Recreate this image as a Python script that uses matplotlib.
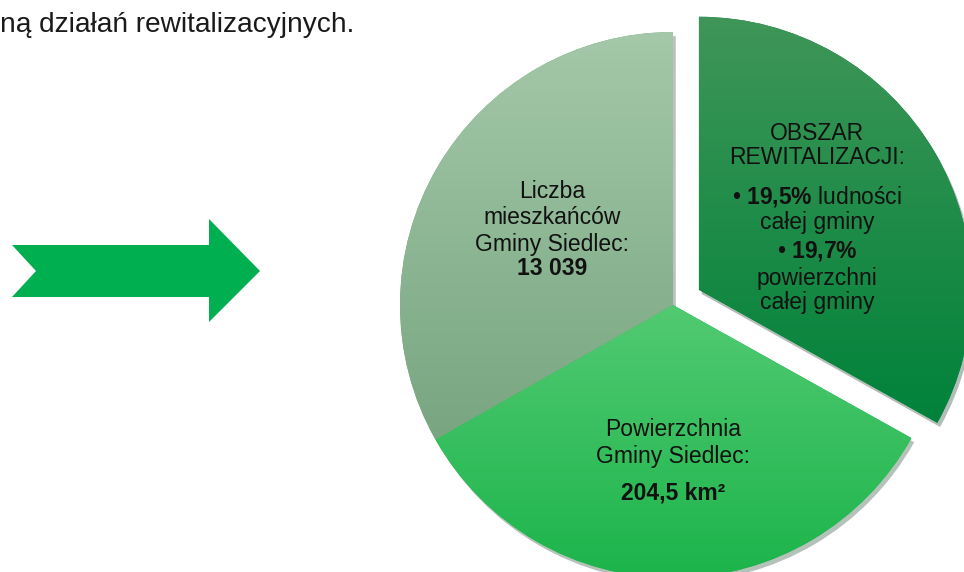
import matplotlib
matplotlib.use("Agg")
import matplotlib.pyplot as plt
import numpy as np
from matplotlib.colors import LinearSegmentedColormap
from matplotlib.patches import Polygon
import matplotlib.patheffects as pe

plt.rcParams["font.family"] = ["Liberation Sans", "DejaVu Sans"]
plt.rcParams["mathtext.fontset"] = "custom"
plt.rcParams["mathtext.rm"] = "Liberation Sans"
plt.rcParams["mathtext.bf"] = "Liberation Sans:bold"

# slice shares (three near-equal thirds)
segments = ["Obszar rewitalizacji", "Powierzchnia", "Liczba mieszkańców"]
shares = [33.1, 33.7, 33.2]
explode = [0.11, 0.0, 0.0]
# (top colour, bottom colour) of each slice's vertical gradient
grad_colors = [("#3f9658", "#00823a"), ("#52ca72", "#1cb44b"), ("#a4c8a9", "#78a680")]

header = "ną działań rewitalizacyjnych."
W, H = 964, 572

fig = plt.figure(figsize=(W / 100, H / 100), dpi=100)

# pie: centre (673, 305) px, radius 273 px; axes span the whole figure
cx, cy, r = 673, 305, 273
ax = fig.add_axes([0, 0, 1, 1])
wedges, _ = ax.pie(shares, explode=explode, startangle=90, counterclock=False,
                   radius=1, colors=[c[1] for c in grad_colors])

grad = np.linspace(0, 1, 256).reshape(-1, 1)
for w, (top, bot) in zip(wedges, grad_colors):
    w.set_edgecolor("none")
    w.set_path_effects([pe.SimplePatchShadow(offset=(2, -3), alpha=0.3), pe.Normal()])
    verts = w.get_path().vertices
    x0, x1 = verts[:, 0].min(), verts[:, 0].max()
    y0, y1 = verts[:, 1].min(), verts[:, 1].max()
    cmap = LinearSegmentedColormap.from_list("g", [bot, top])
    im = ax.imshow(grad, extent=[x0, x1, y0, y1], origin="lower", cmap=cmap,
                   aspect="auto", zorder=w.get_zorder() + 0.1, interpolation="bilinear")
    im.set_clip_path(w)

ax.set_xlim(-cx / r, (W - cx) / r)
ax.set_ylim(-(H - cy) / r, cy / r)
ax.set_aspect("auto")
ax.axis("off")


def px(x, y):
    return x / W, 1 - y / H


# header text (cut off on the left in the original)
fig.text(*px(0, 32), header, fontsize=20.2, ha="left", va="baseline", color="#1a1a1a")

# arrow on the left
arrow = Polygon([px(12, 245), px(209, 245), px(209, 219), px(260, 271),
                 px(209, 322), px(209, 297), px(12, 297), px(36, 271)],
                closed=True, transform=fig.transFigure, facecolor="#00b050",
                edgecolor="none")
fig.patches.append(arrow)

txt = dict(ha="center", va="center", fontsize=16.5, color="#111111", zorder=10)

# grey slice
for y, s in [(192, "Liczba"), (218, "mieszkańców"), (244, "Gminy Siedlec:")]:
    fig.text(*px(552, y), s, **txt)
fig.text(*px(552, 269), "13 039", fontweight="bold", **txt)

# bright green slice
fig.text(*px(673, 429), "Powierzchnia", **txt)
fig.text(*px(673, 456), "Gminy Siedlec:", **txt)
fig.text(*px(673, 493), "204,5 km²", fontweight="bold", **txt)

# exploded slice
fig.text(*px(817, 133), "OBSZAR", **txt)
fig.text(*px(817, 158), "REWITALIZACJI:", **txt)
fig.text(*px(817, 196), "• $\\mathbf{19{,}5\\%}$ ludności", **txt)
fig.text(*px(817, 223), "całej gminy", **txt)
fig.text(*px(817, 251), "• $\\mathbf{19{,}7\\%}$", **txt)
fig.text(*px(817, 278), "powierzchni", **txt)
fig.text(*px(817, 302), "całej gminy", **txt)

fig.savefig("out.png", dpi=100)
